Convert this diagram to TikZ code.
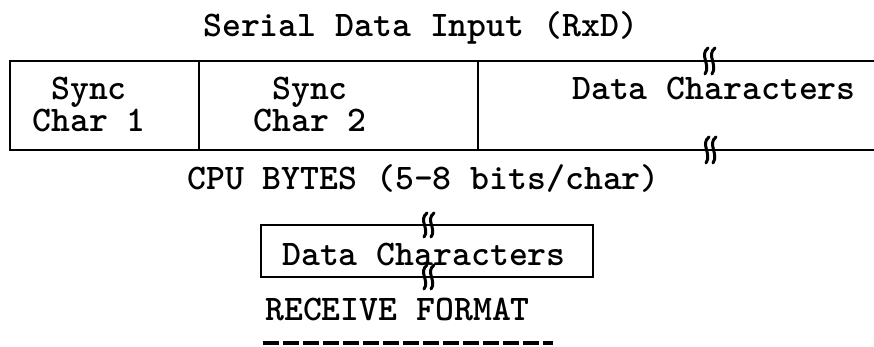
\documentclass[tikz,border=0pt]{standalone}
\usepackage{fontspec}
\begin{document}
\begin{tikzpicture}[x=1pt,y=-1pt,
  txt/.style={anchor=base west,inner sep=0pt,font=\fontsize{36}{32}\selectfont\ttfamily\bfseries},
  cell/.style={txt,anchor=base,align=center},
  frame/.style={line width=2.6pt,line cap=rect},
  brk/.style={line width=3pt,line cap=round}]
  \useasboundingbox (0,0) rectangle (874,347);

  % heading
  \node[txt] (title) at (203,37) {Serial Data Input (RxD)};

  % serial stream frame (open to the right)
  \coordinate (tl) at (10,61);
  \coordinate (bl) at (10,150);
  \coordinate (tr) at (874,61);
  \coordinate (br) at (874,150);
  \coordinate (d1t) at (199,61);
  \coordinate (d1b) at (199,150);
  \coordinate (d2t) at (478,61);
  \coordinate (d2b) at (478,150);
  \draw[frame] (tr) -- (tl) -- (bl) -- (br);
  \draw[frame] (d1t) -- (d1b);
  \draw[frame] (d2t) -- (d2b);

  % cell labels (base anchor sits on the last line)
  \node[cell] (s1) at (89,132) {Sync\\Char 1};
  \node[cell] (s2) at (310,132) {Sync\\Char 2};
  \node[txt] (dat1) at (572,100) {Data Characters};

  % break marks on the stream
  \foreach \bx/\by in {704/61, 705/150}{
    \draw[brk] (\bx+4,\by-13) .. controls (\bx-5,\by-6) and (\bx+7,\by+4) .. (\bx+1,\by+13);
    \draw[brk] (\bx+11,\by-13) .. controls (\bx+2,\by-6) and (\bx+14,\by+4) .. (\bx+8,\by+13);
  }

  \node[txt] (cpu) at (187,190) {CPU BYTES (5-8 bits/char)};

  % CPU byte box
  \draw[frame] (261,225) rectangle (593,277);
  \node[txt] (dat2) at (282,265) {Data Characters};
  \foreach \bx/\by in {423/225, 423/277}{
    \draw[brk] (\bx+4,\by-12) .. controls (\bx-5,\by-5) and (\bx+7,\by+4) .. (\bx+1,\by+12);
    \draw[brk] (\bx+11,\by-12) .. controls (\bx+2,\by-5) and (\bx+14,\by+4) .. (\bx+8,\by+12);
  }

  \node[txt] (fmt) at (265,320) {RECEIVE FORMAT};
  \coordinate (ul1) at (263,343);
  \coordinate (ul2) at (553,343);
  \draw[line width=4pt,dash pattern=on 16pt off 4pt] (ul1) -- (ul2);
\end{tikzpicture}
\end{document}
